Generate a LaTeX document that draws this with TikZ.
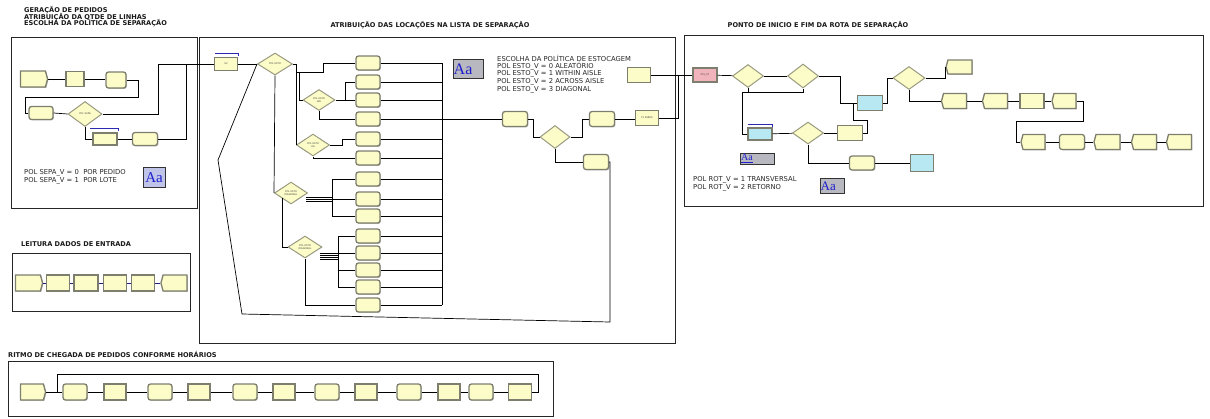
\documentclass[tikz,border=0pt]{standalone}
\usepackage{fontspec}
\setmainfont{DejaVu Sans}
\newfontfamily\serifaa{Liberation Serif}
\usetikzlibrary{shapes.geometric,shapes.symbols,shadows}
\definecolor{yfill}{HTML}{FCFCC8}
\definecolor{bord}{HTML}{7E7E6E}
\definecolor{dbord}{HTML}{9A9A80}
\definecolor{cfill}{HTML}{B8E8F2}
\definecolor{pfill}{HTML}{F2B4BC}
\definecolor{qblue}{HTML}{2A2AB0}
\definecolor{aablue}{HTML}{1E1ECC}
\definecolor{aagrey}{HTML}{B8B8C0}
\definecolor{aalav}{HTML}{C0C4E8}
\definecolor{navy}{HTML}{202078}
\tikzset{
  wh/.style 2 args={minimum width=#1pt, minimum height=#2pt},
  proc/.style={rectangle, draw=bord, line width=1.3pt, fill=yfill, inner sep=0pt,
    drop shadow={shadow xshift=0.9pt, shadow yshift=-0.9pt, fill=black!50},
    font=\fontsize{2.4}{2.8}\selectfont, align=center, text=black!75},
  asg/.style={proc, rounded corners=2.5pt},
  crt/.style={proc, signal, signal to=east, signal pointer angle=150},
  dsp/.style={proc, signal, signal to=west, signal pointer angle=150},
  stn/.style={proc, fill=cfill},
  dec/.style={diamond, draw=dbord, line width=1pt, fill=yfill, inner sep=0pt,
    font=\fontsize{2.4}{2.8}\selectfont, align=center, text=black!75},
  cn/.style={draw=black, line width=0.7pt},
  cnb/.style={draw=navy, line width=0.8pt},
  qline/.style={draw=qblue, line width=1pt},
  frame/.style={draw=black!85, line width=0.9pt},
  ttl/.style={font=\bfseries\fontsize{6.6}{7}\selectfont, inner sep=0pt, text=black!90},
  txt/.style={font=\fontsize{6.8}{7.5}\selectfont, inner sep=0pt, text=black!85},
  aab/.style={rectangle, draw=black!80, line width=0.7pt, fill=aagrey, inner sep=0pt},
  aat/.style={inner sep=0pt, text=aablue}
}
\begin{document}
\begin{tikzpicture}[x=1pt,y=-1pt]
\useasboundingbox (0,0) rectangle (1210,418);

% ================= BOX 1 : GERACAO =================
\node[ttl, anchor=west] (t1a) at (24,10.5) {GERAÇÃO DE PEDIDOS};
\node[ttl, anchor=west] (t1b) at (24,17) {ATRIBUIÇÃO DA QTDE DE LINHAS};
\node[ttl, anchor=west] (t1c) at (24,23.5) {ESCOLHA DA POLÍTICA DE SEPARAÇÃO};
\draw[frame] (11,37) rectangle (197,208);

\node[crt, wh={27}{16}] (g1) at (33,79) {};
\node[proc, wh={18}{15}] (g2) at (75,79) {};
\node[asg, wh={20}{16}] (g3) at (116,80) {};
\node[asg, wh={24}{13}] (g4) at (41,113) {};
\node[dec, wh={34}{25}] (gd) at (85,114) {POL SEPA};
\node[proc, wh={24}{12}] (g5) at (105,139) {};
\node[asg, wh={25}{13}] (g6) at (145,139) {};
\coordinate (gq1) at (90,128);
\coordinate (gq2) at (118,128);

\draw[cn] (g1) -- (g2);
\draw[cn] (g2) -- (g3.west |- g2);
\draw[cn] (g3.east) -- (138,80) -- (138,97) -- (25,97) -- (25,113) -- (g4.west);
\draw[cn] (g4.east) -- (gd.west);
\draw[cn] (gd.south) |- (g5.west);
\draw[cn] (g5) -- (g6);
\draw[qline] (gq1) -- (gq2) -- ++(0,3);

\node[txt, anchor=west] (sp0) at (24,173) {POL SEPA\_V = 0\ \ POR PEDIDO};
\node[txt, anchor=west] (sp1) at (24,181) {POL SEPA\_V = 1\ \ POR LOTE};
\node[aab, fill=aalav, wh={22}{20}] (aa1) at (154,177) {};
\node[aat, font=\serifaa\fontsize{15}{15}\selectfont] (aa1t) at (154,177.5) {Aa};

% ================= LEITURA =================
\node[ttl, anchor=west] (t2) at (21,244) {LEITURA DADOS DE ENTRADA};
\draw[frame] (12,253) rectangle (190,311);
\node[crt, wh={27}{16}] (l1) at (28,283) {};
\node[proc, wh={23}{16}] (l2) at (58,283) {};
\node[proc, wh={24}{16}] (l3) at (86,283) {};
\node[proc, wh={23}{16}] (l4) at (115,283) {};
\node[proc, wh={23}{16}] (l5) at (143,283) {};
\node[dsp, wh={26}{16}] (l6) at (175,283) {};
\draw[cnb] (l1) -- (l2);
\draw[cnb] (l2) -- (l3);
\draw[cnb] (l3) -- (l4);
\draw[cnb] (l4) -- (l5);
\draw[cnb] (l5) -- (l6);

% ================= RITMO =================
\node[ttl, anchor=west] (t3) at (8,354) {RITMO DE CHEGADA DE PEDIDOS CONFORME HORÁRIOS};
\draw[frame] (8,361) rectangle (553,416);
\node[crt, wh={25}{16}] (r1) at (32,392) {};
\node[asg, wh={24}{16}] (r2) at (75,392) {};
\node[proc, wh={22}{16}] (r3) at (115,392) {};
\node[asg, wh={24}{16}] (r4) at (160,392) {};
\node[proc, wh={22}{16}] (r5) at (199,392) {};
\node[asg, wh={24}{16}] (r6) at (245,392) {};
\node[proc, wh={22}{16}] (r7) at (284,392) {};
\node[asg, wh={24}{16}] (r8) at (327,392) {};
\node[proc, wh={22}{16}] (r9) at (366,392) {};
\node[asg, wh={24}{16}] (r10) at (409,392) {};
\node[proc, wh={22}{16}] (r11) at (449,392) {};
\node[asg, wh={24}{16}] (r12) at (481,392) {};
\node[proc, wh={23}{16}] (r13) at (520,392) {};
\foreach \a/\b in {r1/r2,r2/r3,r3/r4,r4/r5,r5/r6,r6/r7,r7/r8,r8/r9,r9/r10,r10/r11,r11/r12,r12/r13}
  \draw[cn] (\a) -- (\b);
\draw[cn] (r13.east) -- (538,392) -- (538,374) -- (57,374) -- (57,392);

% ================= MIDDLE BOX =================
\node[ttl] (t4) at (430,25) {ATRIBUIÇÃO DAS LOCAÇÕES NA LISTA DE SEPARAÇÃO};
\draw[frame] (199,37) rectangle (675,343);

\node[proc, wh={23}{13}] (s2) at (226,64) {S2};
\draw[qline] (215,53) -- (238,53) -- (238,56);
\draw[cn] (g6.east) -- (186,139) -- (186,64);
\draw[cn] (gd.east) -- (158,114) -- (158,64) -- (s2.west);

\node[dec, wh={35}{22}] (d1) at (275,64) {POL ESTO};
\node[dec, wh={32}{21}] (d2) at (319,100) {POL ESTO\\WA};
\node[dec, wh={33}{22}] (d3) at (313,145) {POL ESTO\\AA};
\node[dec, wh={33}{22}] (d4) at (291,193) {POL ESTO\\DIAGONAL};
\node[dec, wh={34}{22}] (d5) at (305,247) {POL ESTO\\DIAGONAL};

\foreach \i/\yy in {1/63,2/82,3/100,4/119,5/139,6/158,7/179,8/199,9/216,10/236,11/253,12/270,13/287,14/305}{
  \node[asg, wh={24}{14}] (a\i) at (368,\yy) {};
  \draw[cn] (a\i.east) -- (442,\yy);
}
\draw[cn] (442,63) -- (442,305);

\draw[cn] (s2) -- (d1);
\draw[cn] (d1.east) -- (296,64) -- (296,72) -- (323,72) -- (323,63) -- (a1.west);
\draw[cn] (296,72) -- (296,145) -- (d3.west);
\draw[cn] (299,72) -- (299,100) -- (d2.west);
\draw[cn] (d1.south) -- (d4.west);
\draw[cn] (d2.east) -- (345,100) -- (345,82) -- (a2.west);
\draw[cn] (345,100) -- (a3.west);
\draw[cn] (d2.south) |- (a4.west);
\draw[cn] (d3.east) -- (342,145) -- (342,139) -- (a5.west);
\draw[cn] (d3.south) |- (a6.west);
\foreach \o in {197,199,201} \draw[cn] (306,\o) -- (332,\o);
\draw[cn] (332,179) -- (332,216);
\draw[cn] (332,179) -- (a7.west);
\draw[cn] (332,199) -- (a8.west);
\draw[cn] (332,216) -- (a9.west);
\draw[cn] (282,198) -- (282,247) -- (d5.west);
\foreach \o in {253,255,257,259} \draw[cn] (320,\o) -- (338,\o);
\draw[cn] (338,236) -- (338,287);
\draw[cn] (338,236) -- (a10.west);
\draw[cn] (338,253) -- (a11.west);
\draw[cn] (338,270) -- (a12.west);
\draw[cn] (338,287) -- (a13.west);
\draw[cn] (d5.south) |- (a14.west);

\node[asg, wh={25}{15}] (b1) at (515,119) {};
\node[dec, wh={30}{23}] (d6) at (555,137) {};
\node[asg, wh={25}{15}] (b2) at (602,119) {};
\node[proc, wh={23}{15}] (b3) at (647,118) {PL PARES};
\node[proc, wh={23}{15}] (b4) at (639,75) {};
\node[asg, wh={25}{15}] (b5) at (596,162) {};

\draw[cn] (442,119) -- (b1.west);
\draw[cn] (b1.east) -- (533,119) -- (533,137) -- (d6.west);
\draw[cn] (d6.east) -- (582,137) -- (582,119) -- (b2.west);
\draw[cn] (b2) -- (b3.west |- b2);
\draw[cn] (d6.south) |- (b5.west);
\draw[cn] (b5.east) -- (610,162) -- (610,322) -- (242,314) -- (218,160) -- (d1.west);

\node[aab, wh={30}{19}] (aa2) at (468,68.5) {};
\node[aat, anchor=west, font=\serifaa\fontsize{16}{16}\selectfont] (aa2t) at (453.5,69) {Aa};
\node[txt, anchor=west] (e0) at (497,58) {ESCOLHA DA POLÍTICA DE ESTOCAGEM};
\node[txt, anchor=west] (e1) at (497,66) {POL ESTO\_V = 0 ALEATÓRIO};
\node[txt, anchor=west] (e2) at (497,74) {POL ESTO\_V = 1 WITHIN AISLE};
\node[txt, anchor=west] (e3) at (497,82) {POL ESTO\_V = 2 ACROSS AISLE};
\node[txt, anchor=west] (e4) at (497,90) {POL ESTO\_V = 3 DIAGONAL};

% ================= BOX 3 : ROTA =================
\node[ttl] (t5) at (818,25) {PONTO DE INICIO E FIM DA ROTA DE SEPARAÇÃO};
\draw[frame] (684,35) rectangle (1203,206);

\node[proc, fill=pfill, wh={24}{14}] (prl) at (705,75) {PRL\_ST};
\node[dec, wh={31}{23}] (d7) at (748,76) {};
\node[dec, wh={31}{24}] (d8) at (803,76) {};
\node[stn, wh={24}{12}] (q1) at (760,134) {};
\draw[qline] (748,124) -- (772,124) -- (772,127);
\node[dec, wh={31}{22}] (d9) at (808,133) {};
\node[proc, wh={25}{15}] (d10) at (850,133) {};
\node[stn, wh={25}{15}] (q2) at (870,103) {};
\node[dec, wh={32}{23}] (d12) at (909,78) {};
\node[dsp, wh={26}{14}] (x1) at (960,67) {};
\node[dsp, wh={25}{15}] (f1) at (955,101) {};
\node[dsp, wh={25}{15}] (f2) at (996,101) {};
\node[proc, wh={24}{15}] (f3) at (1032,101) {};
\node[dsp, wh={24}{15}] (f4) at (1065,101) {};
\node[dsp, wh={24}{15}] (h1) at (1034,142) {};
\node[asg, wh={25}{15}] (h2) at (1072,142) {};
\node[dsp, wh={26}{15}] (h3) at (1108,142) {};
\node[dsp, wh={25}{15}] (h4) at (1145,142) {};
\node[dsp, wh={25}{15}] (h5) at (1180,142) {};
\node[asg, wh={25}{14}] (d11) at (862,163) {};
\node[stn, wh={23}{17}] (q3) at (922,163) {};

\draw[cn] (b3.east) -- (678,118) -- (678,75) -- (prl.west);
\draw[cn] (b4.east) -- (678,75);
\draw[cn] (prl) -- (d7);
\draw[cn] (d7) -- (d8);
\draw[cn] (d8.south) -- (803,92) -- (742,92) -- (742,134) -- (q1.west);
\draw[cn] (d7.south) -- (748,92);
\draw[cn] (d8.east) -- (840,76) -- (840,103) -- (q2.west);
\draw[cn] (q1) -- (d9);
\draw[cn] (d9) -- (d10);
\draw[cn] (d10.east) -- (867,133) -- (867,120) -- (853,120) -- (853,103) -- (q2.west);
\draw[cn] (q2.east) -- (887,103) -- (887,78) -- (d12.west);
\draw[cn] (d12.east) -- (945,78) -- (945,67) -- (x1.west);
\draw[cn] (d12.south) |- (f1.west);
\draw[cn] (f1) -- (f2);
\draw[cn] (f2) -- (f3);
\draw[cn] (f3) -- (f4);
\draw[cn] (f4.east) -- (1083,101) -- (1083,121) -- (1016,121) -- (1016,142) -- (h1.west);
\draw[cn] (h1) -- (h2);
\draw[cn] (h2) -- (h3);
\draw[cn] (h3) -- (h4);
\draw[cn] (h4) -- (h5);
\draw[cn] (d9.south) |- (d11.west);
\draw[cn] (d11) -- (q3);

\node[aab, wh={34}{11}] (aa3) at (757,158.5) {};
\node[aat, anchor=west, font=\serifaa\fontsize{10}{10}\selectfont] (aa3t) at (741,158.5) {\underline{Aa}};
\node[aab, wh={24}{15}] (aa4) at (832,185.5) {};
\node[aat, anchor=west, font=\serifaa\fontsize{13}{13}\selectfont] (aa4t) at (820.5,186) {Aa};
\node[txt, anchor=west] (p1) at (693,180) {POL ROT\_V = 1 TRANSVERSAL};
\node[txt, anchor=west] (p2) at (693,188) {POL ROT\_V = 2 RETORNO};
\end{tikzpicture}
\end{document}
